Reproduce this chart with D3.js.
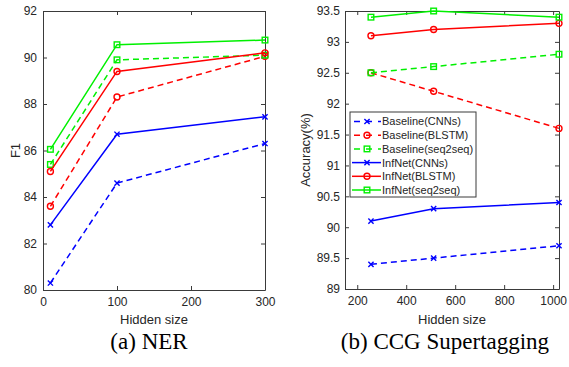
<!DOCTYPE html>
<html>
<head>
<meta charset="utf-8">
<script src="https://cdn.jsdelivr.net/npm/d3@7/dist/d3.min.js"></script>
<style>
  body { margin: 0; background: #fff; }
  svg text { font-family: "Liberation Sans", Arial, sans-serif; fill: #262626; }
  .caption { font-family: "Liberation Serif", "Times New Roman", serif; fill: #000; }
</style>
</head>
<body>
<div id="chart"></div>
<script>
// series names shared by both panels
var seriesNames = ["Baseline(CNNs)", "Baseline(BLSTM)", "Baseline(seq2seq)",
                   "InfNet(CNNs)", "InfNet(BLSTM)", "InfNet(seq2seq)"];

// (a) NER
var nerSizes = [10, 100, 300];
var nerBaseCNN = [80.3, 84.6, 86.3];
var nerBaseBLSTM = [83.6, 88.3, 90.05];
var nerBaseSeq = [85.4, 89.9, 90.1];
var nerInfCNN = [82.8, 86.7, 87.45];
var nerInfBLSTM = [85.1, 89.4, 90.2];
var nerInfSeq = [86.05, 90.55, 90.75];
var nerXTicks = [0, 100, 200, 300];
var nerYTicks = [80, 82, 84, 86, 88, 90, 92];

// (b) CCG Supertagging
var ccgSizes = [256, 512, 1024];
var ccgBaseCNN = [89.4, 89.5, 89.7];
var ccgBaseBLSTM = [92.5, 92.2, 91.6];
var ccgBaseSeq = [92.5, 92.6, 92.8];
var ccgInfCNN = [90.1, 90.3, 90.4];
var ccgInfBLSTM = [93.1, 93.2, 93.3];
var ccgInfSeq = [93.4, 93.5, 93.4];
var ccgXTicks = [200, 400, 600, 800, 1000];
var ccgYTicks = [89, 89.5, 90, 90.5, 91, 91.5, 92, 92.5, 93, 93.5];

var colors = ["#0000ff", "#ff0000", "#00f000", "#0000ff", "#ff0000", "#00f000"];
var markers = ["x", "o", "s", "x", "o", "s"];
var dashed = [true, true, true, false, false, false];
var axisColor = "#3a3a3a";

var svg = d3.select("#chart").append("svg")
  .attr("width", 569)
  .attr("height", 367);

function drawMarker(g, type, x, y, color) {
  if (type == "x") {
    g.append("path")
      .attr("d", "M" + (x - 2.6) + "," + (y - 2.6) + "L" + (x + 2.6) + "," + (y + 2.6) +
                 "M" + (x - 2.6) + "," + (y + 2.6) + "L" + (x + 2.6) + "," + (y - 2.6))
      .attr("stroke", color).attr("stroke-width", 1.4).attr("fill", "none");
  } else if (type == "o") {
    g.append("circle").attr("cx", x).attr("cy", y).attr("r", 3)
      .attr("stroke", color).attr("stroke-width", 1.4).attr("fill", "none");
  } else {
    g.append("rect").attr("x", x - 2.8).attr("y", y - 2.8).attr("width", 5.6).attr("height", 5.6)
      .attr("stroke", color).attr("stroke-width", 1.4).attr("fill", "none");
  }
}

function drawPanel(opts) {
  var x = d3.scaleLinear().domain(opts.xDomain).range([opts.left, opts.right]);
  var y = d3.scaleLinear().domain(opts.yDomain).range([opts.bottom, opts.top]);
  var g = svg.append("g");

  g.append("rect")
    .attr("x", opts.left).attr("y", opts.top)
    .attr("width", opts.right - opts.left).attr("height", opts.bottom - opts.top)
    .attr("fill", "#fff");

  var fmt = d3.format("~g");
  var axes = [
    [d3.axisBottom(x).tickValues(opts.xTicks).tickFormat(fmt).tickPadding(7), "translate(0," + opts.bottom + ")"],
    [d3.axisTop(x).tickValues(opts.xTicks).tickFormat(""), "translate(0," + opts.top + ")"],
    [d3.axisLeft(y).tickValues(opts.yTicks).tickFormat(fmt).tickPadding(opts.yPad), "translate(" + opts.left + ",0)"],
    [d3.axisRight(y).tickValues(opts.yTicks).tickFormat(""), "translate(" + opts.right + ",0)"]
  ];
  axes.forEach(function(a) {
    var ax = g.append("g").attr("transform", a[1])
      .call(a[0].tickSizeInner(-4).tickSizeOuter(0));
    ax.select(".domain").attr("stroke", axisColor).attr("stroke-width", 1);
    ax.selectAll(".tick line").attr("stroke", axisColor);
    ax.selectAll("text").attr("font-size", 12).attr("fill", "#262626")
      .style("font-family", "'Liberation Sans', Arial, sans-serif");
  });

  var line = d3.line()
    .x(function(d) { return x(d[0]); })
    .y(function(d) { return y(d[1]); });

  opts.series.forEach(function(vals, i) {
    var pts = opts.sizes.map(function(s, j) { return [s, vals[j]]; });
    g.append("path")
      .attr("d", line(pts))
      .attr("fill", "none")
      .attr("stroke", colors[i])
      .attr("stroke-width", 1.5)
      .attr("stroke-dasharray", dashed[i] ? "6,4" : null);
    pts.forEach(function(p) {
      drawMarker(g, markers[i], x(p[0]), y(p[1]), colors[i]);
    });
  });

  g.append("text")
    .attr("x", (opts.left + opts.right) / 2).attr("y", 324)
    .attr("text-anchor", "middle").attr("font-size", 13)
    .text("Hidden size");

  g.append("text")
    .attr("transform", "translate(" + opts.yLabelX + "," + ((opts.top + opts.bottom) / 2) + ") rotate(-90)")
    .attr("text-anchor", "middle").attr("font-size", 13)
    .text(opts.yLabel);

  svg.append("text")
    .attr("class", "caption")
    .attr("x", opts.captionX).attr("y", 349)
    .attr("text-anchor", "middle").attr("font-size", 23)
    .text(opts.caption);

  return g;
}

drawPanel({
  left: 43, right: 265, top: 11, bottom: 290,
  xDomain: [0, 300], yDomain: [80, 92],
  xTicks: nerXTicks, yTicks: nerYTicks, yPad: 6,
  sizes: nerSizes,
  series: [nerBaseCNN, nerBaseBLSTM, nerBaseSeq, nerInfCNN, nerInfBLSTM, nerInfSeq],
  yLabel: "F1", yLabelX: 20,
  caption: "(a) NER", captionX: 149
});

var ccg = drawPanel({
  left: 345, right: 559, top: 11, bottom: 289,
  xDomain: [150, 1024], yDomain: [89, 93.5],
  xTicks: ccgXTicks, yTicks: ccgYTicks, yPad: 5,
  sizes: ccgSizes,
  series: [ccgBaseCNN, ccgBaseBLSTM, ccgBaseSeq, ccgInfCNN, ccgInfBLSTM, ccgInfSeq],
  yLabel: "Accuracy(%)", yLabelX: 310,
  caption: "(b) CCG Supertagging", captionX: 445
});

// legend
var legend = ccg.append("g").attr("transform", "translate(350,112)");
legend.append("rect")
  .attr("width", 126).attr("height", 85)
  .attr("fill", "#fff").attr("stroke", axisColor).attr("stroke-width", 1);

seriesNames.forEach(function(name, i) {
  var ly = 9.5 + i * 13.7;
  legend.append("line")
    .attr("x1", 2).attr("x2", 31).attr("y1", ly).attr("y2", ly)
    .attr("stroke", colors[i]).attr("stroke-width", 1.5)
    .attr("stroke-dasharray", dashed[i] ? "6,6" : null)
    .attr("stroke-dashoffset", dashed[i] ? -2 : null);
  drawMarker(legend, markers[i], 17, ly, colors[i]);
  legend.append("text")
    .attr("x", 32).attr("y", ly).attr("dy", "0.36em")
    .attr("font-size", 11)
    .text(name);
});
</script>
</body>
</html>
